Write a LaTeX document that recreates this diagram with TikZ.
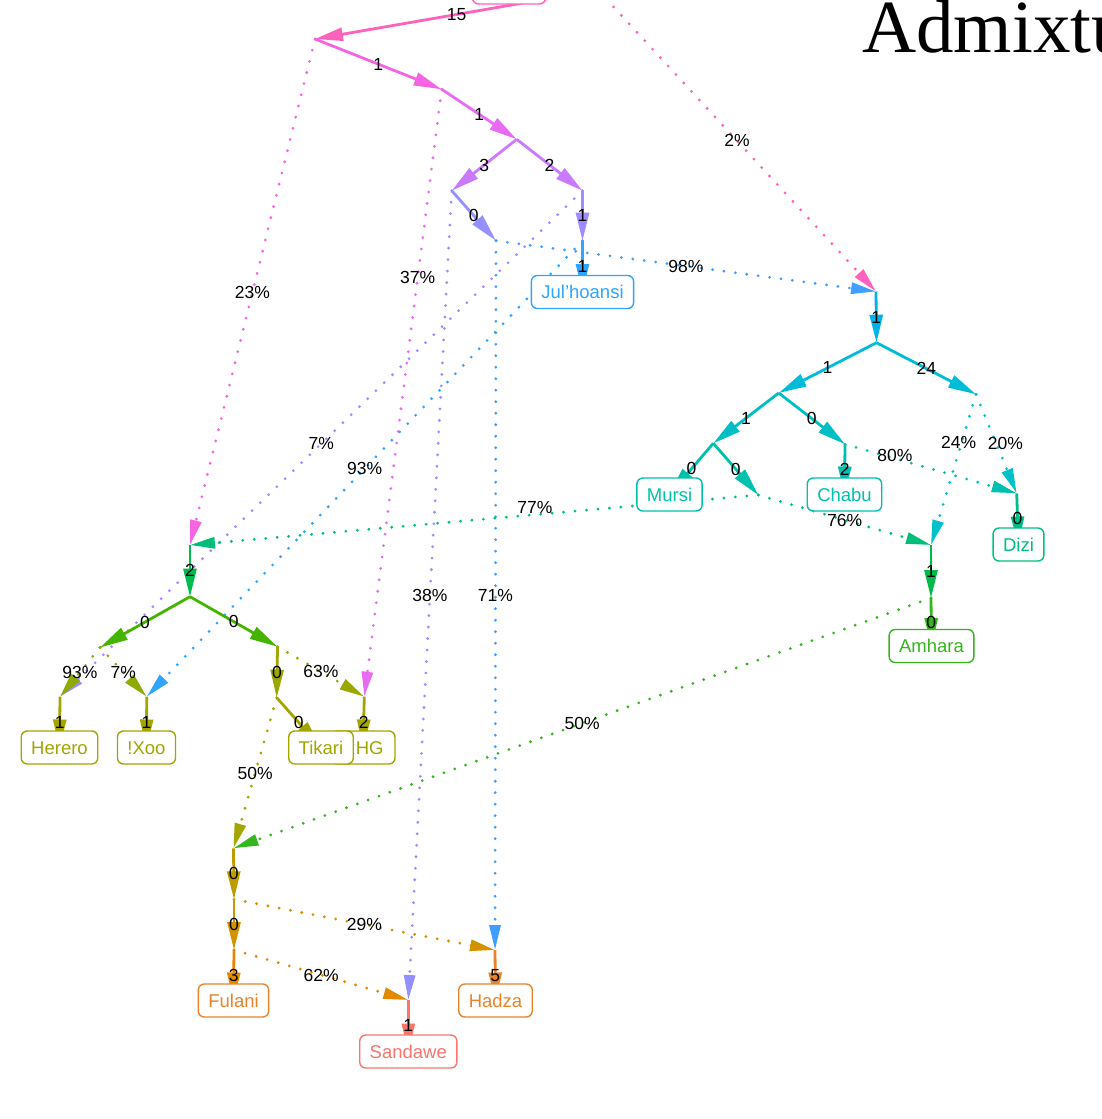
\documentclass[tikz,border=0pt]{standalone}
\usepackage{fontspec}
\setmainfont{Liberation Sans}
\newfontfamily\titlefont{Liberation Serif}
\usetikzlibrary{arrows.meta}
\definecolor{cRoot}{HTML}{FF62BC}
\definecolor{cA}{HTML}{F564E3}
\definecolor{cB}{HTML}{E76BF3}
\definecolor{cC}{HTML}{CB7AFF}
\definecolor{cD}{HTML}{9590FF}
\definecolor{cE}{HTML}{A28BFF}
\definecolor{cF}{HTML}{3F9EFF}
\definecolor{cG}{HTML}{2FA5FF}
\definecolor{cK}{HTML}{00B2EC}
\definecolor{cL}{HTML}{00BCD8}
\definecolor{cM}{HTML}{00BFC4}
\definecolor{cN}{HTML}{00C0C8}
\definecolor{cP}{HTML}{00C1AA}
\definecolor{cQ}{HTML}{00BFB0}
\definecolor{cR}{HTML}{00BE7A}
\definecolor{cDizi}{HTML}{00BE85}
\definecolor{cS}{HTML}{00BA48}
\definecolor{cT}{HTML}{35B61E}
\definecolor{cU}{HTML}{00BB4E}
\definecolor{cZ}{HTML}{44B400}
\definecolor{cHa}{HTML}{8FAA00}
\definecolor{cHb}{HTML}{9AA700}
\definecolor{cOl}{HTML}{A3A500}
\definecolor{cV}{HTML}{BE9C00}
\definecolor{cW}{HTML}{D39200}
\definecolor{cX}{HTML}{E38900}
\definecolor{cOr}{HTML}{E8832A}
\definecolor{cSal}{HTML}{F8766D}
\begin{document}
\begin{tikzpicture}[x=1pt,y=-1pt,
  drift/.style={color=#1, line width=2.8pt, -{Triangle[length=28pt,width=13pt]}},
  admix/.style={color=#1, line width=3.1pt, line cap=round, dash pattern=on 0pt off 11.5pt, -{Triangle[length=25pt,width=11pt]}},
  lab/.style={text=black, inner sep=0pt, font=\fontsize{17.5}{17.5}\selectfont},
  leaf/.style={draw=#1, text=#1, fill=white, rounded corners=6pt, line width=1.4pt, minimum height=33pt, inner xsep=10pt, inner ysep=0pt, text height=13.3pt, text depth=0pt, font=\fontsize{18.5}{18.5}\selectfont}]
\clip (0,0) rectangle (1102,1119);
% internal points
\coordinate (root) at (598,-10);
\coordinate (A) at (315,39);
\coordinate (B) at (441.7,89.3);
\coordinate (C) at (516.7,139.3);
\coordinate (D) at (451.7,190.7);
\coordinate (E) at (582.5,190.7);
\coordinate (F) at (496,240.7);
\coordinate (G) at (582.5,240.7);
\coordinate (K) at (876,291.5);
\coordinate (L) at (876.5,342.7);
\coordinate (M) at (778.7,393);
\coordinate (N) at (976,394.3);
\coordinate (P) at (713.3,443.3);
\coordinate (Q) at (845,444.2);
\coordinate (R) at (758.3,495);
\coordinate (DZ) at (1016.7,493.3);
\coordinate (S) at (931,545);
\coordinate (T) at (931,598);
\coordinate (U) at (190,545);
\coordinate (Z) at (190,596.7);
\coordinate (H1) at (100,647.5);
\coordinate (H2) at (277.5,646.7);
\coordinate (H3) at (276.7,697.7);
\coordinate (HE) at (60,696.7);
\coordinate (XA) at (146.7,696.7);
\coordinate (HGA) at (364.3,696.7);
\coordinate (V) at (233.5,848.3);
\coordinate (W) at (234,899.3);
\coordinate (X) at (234,950);
\coordinate (HA) at (495,950);
\coordinate (SA) at (408.3,1000);
% leaf anchors
\coordinate (lJul) at (582.5,292);
\coordinate (lMursi) at (669.5,494.5);
\coordinate (lChabu) at (844.5,494.5);
\coordinate (lDizi) at (1018.5,544.5);
\coordinate (lAmhara) at (931.5,646);
\coordinate (lHerero) at (59.5,747.5);
\coordinate (lXoo) at (146.5,747.5);
\coordinate (lTikari) at (321,747.5);
\coordinate (lHG) at (363,747.5);
\coordinate (lFulani) at (233.5,1000.5);
\coordinate (lHadza) at (495.5,1000.5);
\coordinate (lSandawe) at (408.3,1051.5);
% admixture edges (dotted)
\draw[admix=cRoot] (root) -- node[lab]{2\%} (K);
\draw[admix=cA] (A) -- node[lab]{23\%} (U);
\draw[admix=cB] (B) -- node[lab,pos=0.31]{37\%} (HGA);
\draw[admix=cD] (D) -- node[lab]{38\%} (SA);
\draw[admix=cE] (E) -- node[lab]{7\%} (HE);
\draw[admix=cF] (F) -- node[lab]{98\%} (K);
\draw[admix=cF] (F) -- node[lab]{71\%} (HA);
\draw[admix=cG] (G) -- node[lab]{93\%} (XA);
\draw[admix=cQ] (Q) -- node[lab,pos=0.29,yshift=3pt]{80\%} (DZ);
\draw[admix=cN] (N) -- node[lab,pos=0.5,xshift=9pt]{20\%} (DZ);
\draw[admix=cN] (N) -- node[lab,pos=0.32,xshift=-3pt]{24\%} (S);
\draw[admix=cR] (R) -- node[lab]{76\%} (S);
\draw[admix=cR] (R) -- node[lab,pos=0.393,yshift=7pt]{77\%} (U);
\draw[admix=cT] (T) -- node[lab]{50\%} (V);
\draw[admix=cHa] (H1) -- node[lab]{93\%} (HE);
\draw[admix=cHa] (H1) -- node[lab]{7\%} (XA);
\draw[admix=cHb] (H2) -- node[lab]{63\%} (HGA);
\draw[admix=cOl] (H3) -- node[lab]{50\%} (V);
\draw[admix=cW] (W) -- node[lab]{29\%} (HA);
\draw[admix=cX] (X) -- node[lab]{62\%} (SA);
% drift edges (solid)
\draw[drift=cRoot] (root) -- node[lab]{15} (A);
\draw[drift=cA] (A) -- node[lab]{1} (B);
\draw[drift=cB] (B) -- node[lab]{1} (C);
\draw[drift=cC] (C) -- node[lab]{3} (D);
\draw[drift=cC] (C) -- node[lab]{2} (E);
\draw[drift=cD] (D) -- node[lab]{0} (F);
\draw[drift=cE] (E) -- node[lab]{1} (G);
\draw[drift=cG] (G) -- node[lab]{1} (lJul);
\draw[drift=cK] (K) -- node[lab]{1} (L);
\draw[drift=cL] (L) -- node[lab]{1} (M);
\draw[drift=cL] (L) -- node[lab]{24} (N);
\draw[drift=cM] (M) -- node[lab]{1} (P);
\draw[drift=cM] (M) -- node[lab]{0} (Q);
\draw[drift=cP] (P) -- node[lab]{0} (lMursi);
\draw[drift=cP] (P) -- node[lab]{0} (R);
\draw[drift=cQ] (Q) -- node[lab]{2} (lChabu);
\draw[drift=cDizi] (DZ) -- node[lab]{0} (lDizi);
\draw[drift=cS] (S) -- node[lab]{1} (T);
\draw[drift=cT] (T) -- node[lab]{0} (lAmhara);
\draw[drift=cU] (U) -- node[lab]{2} (Z);
\draw[drift=cZ] (Z) -- node[lab]{0} (H1);
\draw[drift=cZ] (Z) -- node[lab]{0} (H2);
\draw[drift=cOl] (HE) -- node[lab]{1} (lHerero);
\draw[drift=cOl] (XA) -- node[lab]{1} (lXoo);
\draw[drift=cHb] (H2) -- node[lab]{0} (H3);
\draw[drift=cOl] (H3) -- node[lab]{0} (lTikari);
\draw[drift=cOl] (HGA) -- node[lab]{2} (lHG);
\draw[drift=cV] (V) -- node[lab]{0} (W);
\draw[drift=cW] (W) -- node[lab]{0} (X);
\draw[drift=cX] (X) -- node[lab]{3} (lFulani);
\draw[drift=cOr] (HA) -- node[lab]{5} (lHadza);
\draw[drift=cSal] (SA) -- node[lab]{1} (lSandawe);
% leaf boxes
\node[leaf=cRoot, minimum width=73pt] (rootbox) at (509,-12.5) {};
\node[leaf=cG] (jul) at (lJul) {Jul'hoansi};
\node[leaf=cP] (mursi) at (lMursi) {Mursi};
\node[leaf=cQ] (chabu) at (lChabu) {Chabu};
\node[leaf=cDizi] (dizi) at (lDizi) {Dizi};
\node[leaf=cT] (amhara) at (lAmhara) {Amhara};
\node[leaf=cOl] (herero) at (lHerero) {Herero};
\node[leaf=cOl] (xoo) at (lXoo) {!Xoo};
\node[leaf=cOl, minimum width=64pt] (hg) at (lHG) {RHG};
\node[leaf=cOl] (tikari) at (lTikari) {Tikari};
\node[leaf=cOr] (fulani) at (lFulani) {Fulani};
\node[leaf=cOr] (hadza) at (lHadza) {Hadza};
\node[leaf=cSal] (sandawe) at (lSandawe) {Sandawe};
% title
\node[anchor=base west, inner sep=0pt, font=\titlefont\fontsize{75}{75}\selectfont] (title) at (862,52) {Admixture graph};
\end{tikzpicture}
\end{document}
